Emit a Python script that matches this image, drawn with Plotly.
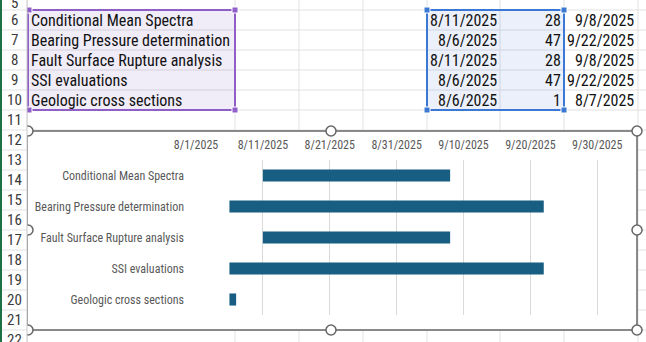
import plotly.graph_objects as go
from datetime import date, timedelta

# ---- data ----
tasks = ["Conditional Mean Spectra", "Bearing Pressure determination",
         "Fault Surface Rupture analysis", "SSI evaluations", "Geologic cross sections"]
starts = ["2025-08-11", "2025-08-06", "2025-08-11", "2025-08-06", "2025-08-06"]
durations = [28, 47, 28, 47, 1]
row_numbers = list(range(5, 23))

W, H = 646, 342
def px(x): return x / W
def py(y): return 1 - y / H

def fmt(d):
    return f"{d.month}/{d.day}/{d.year}"

start_dates = [date.fromisoformat(s) for s in starts]
end_dates = [s + timedelta(days=d) for s, d in zip(start_dates, durations)]

BAR = "#175E82"
GRID = "#E1E1E1"
TXT = "#595959"
SHEET_FONT = "Liberation Sans Narrow, Roboto Condensed, Roboto, sans-serif"
CHART_FONT = "Liberation Sans Narrow, Roboto Condensed, Roboto, sans-serif"

fig = go.Figure()
fig.add_trace(go.Bar(
    y=tasks,
    x=[d * 86400000 for d in durations],
    base=starts,
    orientation="h",
    marker=dict(color=BAR, line=dict(width=0)),
    width=0.39,
    hoverinfo="skip",
))

shapes = []
ann = []

# sheet column/row grid
col_x = [27, 235, 299, 363, 427, 500, 564, 638]
for x in col_x:
    shapes.append(dict(type="line", xref="paper", yref="paper", x0=px(x), x1=px(x),
                       y0=py(0), y1=py(H), line=dict(color=GRID, width=1), layer="below"))
for i in range(18):
    y = 10 + 20 * i
    shapes.append(dict(type="line", xref="paper", yref="paper", x0=px(0), x1=px(W),
                       y0=py(y), y1=py(y), line=dict(color=GRID, width=1), layer="below"))

# highlighted ranges
shapes.append(dict(type="rect", xref="paper", yref="paper", x0=px(28), x1=px(235),
                   y0=py(10), y1=py(110), fillcolor="rgba(120,80,190,0.11)",
                   line=dict(color="#8E5FC6", width=2), layer="below"))
shapes.append(dict(type="rect", xref="paper", yref="paper", x0=px(427), x1=px(564),
                   y0=py(10), y1=py(110), fillcolor="rgba(70,120,210,0.11)",
                   line=dict(color="#3A78D4", width=2), layer="below"))
for (cx, cy, c) in [(29, 10, "#8E5FC6"), (235, 10, "#8E5FC6"), (29, 110, "#8E5FC6"), (235, 110, "#8E5FC6"),
                    (427, 10, "#3A78D4"), (564, 10, "#3A78D4"), (427, 110, "#3A78D4"), (564, 110, "#3A78D4")]:
    shapes.append(dict(type="rect", xref="paper", yref="paper", x0=px(cx - 3), x1=px(cx + 3),
                       y0=py(cy - 3), y1=py(cy + 3), fillcolor=c, line=dict(color="white", width=1),
                       layer="below"))

# chart area
shapes.append(dict(type="rect", xref="paper", yref="paper", x0=px(27), x1=px(637),
                   y0=py(131), y1=py(330), fillcolor="white",
                   line=dict(color="#666666", width=1.5), layer="below"))
for (cx, cy) in [(28, 131), (331, 131), (637, 131), (28, 230), (637, 230), (28, 330), (331, 330), (637, 330)]:
    shapes.append(dict(type="circle", xref="paper", yref="paper", x0=px(cx - 5), x1=px(cx + 5),
                       y0=py(cy - 5), y1=py(cy + 5), fillcolor="white",
                       line=dict(color="#666666", width=1.5), layer="below"))

# row header
shapes.append(dict(type="rect", xref="paper", yref="paper", x0=px(0), x1=px(27),
                   y0=py(0), y1=py(H), fillcolor="white", line=dict(width=0), layer="below"))
for i in range(18):
    y = 10 + 20 * i
    shapes.append(dict(type="line", xref="paper", yref="paper", x0=px(0), x1=px(27),
                       y0=py(y), y1=py(y), line=dict(color=GRID, width=1), layer="below"))
shapes.append(dict(type="line", xref="paper", yref="paper", x0=px(27), x1=px(27),
                   y0=py(0), y1=py(H), line=dict(color="#C8C8C8", width=1), layer="below"))
shapes.append(dict(type="rect", xref="paper", yref="paper", x0=px(0), x1=px(2),
                   y0=py(0), y1=py(H), fillcolor="#1E7145", line=dict(width=0), layer="below"))

for i, n in enumerate(row_numbers):
    yc = 10 + 20 * (i - 1) + 10
    if n == 5:
        yc = 3
    ann.append(dict(x=px(14), y=py(yc), xref="paper", yref="paper", text=str(n), showarrow=False,
                    xanchor="center", yanchor="middle",
                    font=dict(family=SHEET_FONT, size=15, color="#3B3B3B")))

# sheet cell text
SF = 16
for i in range(len(tasks)):
    yc = 20 + 20 * i
    ann.append(dict(x=px(29), y=py(yc), xref="paper", yref="paper", text=tasks[i], showarrow=False,
                    xanchor="left", yanchor="middle",
                    font=dict(family=SHEET_FONT, size=SF, color="#111111")))
    ann.append(dict(x=px(499), y=py(yc), xref="paper", yref="paper", text=fmt(start_dates[i]),
                    showarrow=False, xanchor="right", yanchor="middle",
                    font=dict(family=SHEET_FONT, size=SF, color="#111111")))
    ann.append(dict(x=px(563), y=py(yc), xref="paper", yref="paper", text=str(durations[i]),
                    showarrow=False, xanchor="right", yanchor="middle",
                    font=dict(family=SHEET_FONT, size=SF, color="#111111")))
    ann.append(dict(x=px(636), y=py(yc), xref="paper", yref="paper", text=fmt(end_dates[i]),
                    showarrow=False, xanchor="right", yanchor="middle",
                    font=dict(family=SHEET_FONT, size=SF, color="#111111")))

fig.update_layout(
    width=W, height=H,
    margin=dict(l=0, r=0, t=0, b=0, autoexpand=False),
    paper_bgcolor="white",
    plot_bgcolor="rgba(0,0,0,0)",
    showlegend=False,
    shapes=shapes,
    annotations=ann,
    xaxis=dict(
        type="date",
        domain=[px(196), px(624)],
        range=["2025-08-01", "2025-10-04"],
        side="top",
        tick0="2025-08-01",
        dtick=864000000,
        tickformat="%-m/%-d/%Y",
        showgrid=True, gridcolor="#D9D9D9", gridwidth=1,
        zeroline=False, showline=False, ticks="",
        ticklabelstandoff=8,
        automargin=False,
        tickfont=dict(family=CHART_FONT, size=12, color=TXT),
        fixedrange=True,
    ),
    yaxis=dict(
        domain=[py(315), py(160)],
        range=[4.5, -0.5],
        showgrid=False, zeroline=False, showline=False, ticks="",
        ticklabelstandoff=11,
        automargin=False,
        tickfont=dict(family=CHART_FONT, size=12, color=TXT),
        fixedrange=True,
    ),
)

fig.write_html("out.html")
